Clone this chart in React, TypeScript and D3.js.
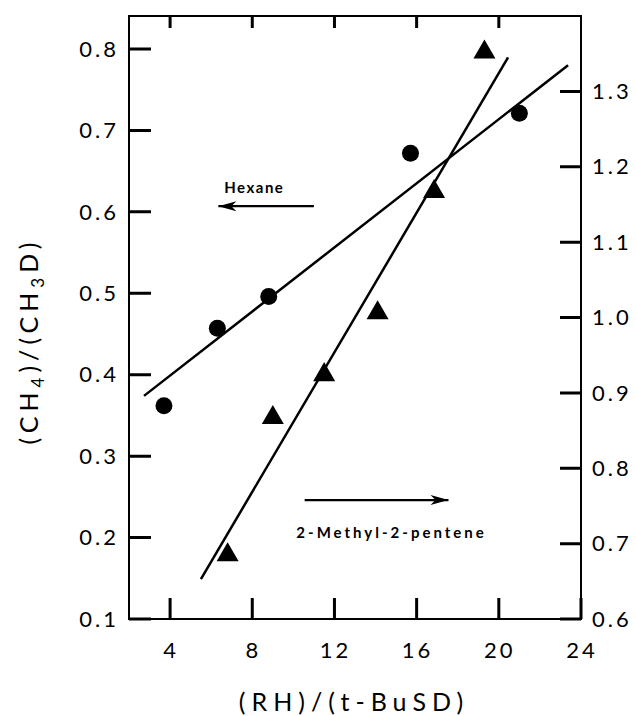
import React, { useEffect, useRef } from "react";
import * as d3 from "d3";

// hexane: (RH)/(t-BuSD) vs (CH4)/(CH3D), left axis
const hexaneX = [3.7, 6.3, 8.8, 15.7, 21.0];
const hexaneY = [0.362, 0.457, 0.496, 0.672, 0.721];
// 2-methyl-2-pentene, right axis
const pentX = [6.8, 9.0, 11.5, 14.1, 16.85, 19.3];
const pentY = [0.685, 0.867, 0.924, 1.006, 1.167, 1.352];
// fitted lines (endpoints)
const hexaneFitX = [2.73, 23.37];
const hexaneFitY = [0.374, 0.78];
const pentFitX = [5.5, 20.45];
const pentFitY = [0.653, 1.345];

const xTicks = [4, 8, 12, 16, 20, 24];
const leftTicks = [0.1, 0.2, 0.3, 0.4, 0.5, 0.6, 0.7, 0.8];
const rightTicks = [0.6, 0.7, 0.8, 0.9, 1.0, 1.1, 1.2, 1.3];

const FONT = "Lato, 'DejaVu Sans', sans-serif";

const App = () => {
  const ref = useRef<SVGSVGElement>(null);
  useEffect(() => {
    const WIDTH = 636;
    const HEIGHT = 716;
    const M = { top: 16, right: 55, bottom: 97, left: 129 };
    const x = d3.scaleLinear().domain([2, 24]).range([M.left, WIDTH - M.right]);
    const yL = d3.scaleLinear().domain([0.1, 0.8405]).range([HEIGHT - M.bottom, M.top]);
    const yR = d3.scaleLinear().domain([0.6, 1.4]).range([HEIGHT - M.bottom, M.top]);
    const xl = M.left;
    const xr = WIDTH - M.right;
    const yb = HEIGHT - M.bottom;
    const yt0 = M.top;

    const svg = d3.select(ref.current);
    svg.selectAll("*").remove();
    const ink = "#000";

    // frame
    svg
      .append("rect")
      .attr("x", xl)
      .attr("y", yt0)
      .attr("width", xr - xl)
      .attr("height", yb - yt0)
      .attr("fill", "none")
      .attr("stroke", ink)
      .attr("stroke-width", 2);

    const labelStyle = (sel: any) =>
      sel
        .attr("fill", ink)
        .style("font-family", FONT)
        .style("font-size", "22px")
        .style("letter-spacing", "3px");

    svg
      .append("g")
      .selectAll("text")
      .data(xTicks)
      .join("text")
      .attr("x", (d) => x(d) + 1)
      .attr("y", yb + 39)
      .attr("text-anchor", "middle")
      .text((d) => d)
      .call(labelStyle);

    svg
      .append("g")
      .selectAll("text")
      .data(leftTicks)
      .join("text")
      .attr("x", xl - 10)
      .attr("y", (d) => yL(d))
      .attr("dy", "0.35em")
      .attr("text-anchor", "end")
      .text((d) => d3.format(".1f")(d))
      .call(labelStyle);

    svg
      .append("g")
      .selectAll("text")
      .data(rightTicks)
      .join("text")
      .attr("x", xr + 11)
      .attr("y", (d) => yR(d))
      .attr("dy", "0.35em")
      .attr("text-anchor", "start")
      .text((d) => d3.format(".1f")(d))
      .call(labelStyle);

    // fit lines
    const line = d3.line<[number, number]>();
    svg
      .append("path")
      .attr("d", line(hexaneFitX.map((v, i) => [x(v), yL(hexaneFitY[i])])))
      .attr("stroke", ink)
      .attr("stroke-width", 2.5)
      .attr("fill", "none");
    svg
      .append("path")
      .attr("d", line(pentFitX.map((v, i) => [x(v), yR(pentFitY[i])])))
      .attr("stroke", ink)
      .attr("stroke-width", 2.5)
      .attr("fill", "none");

    // points
    svg
      .append("g")
      .selectAll("circle")
      .data(hexaneX)
      .join("circle")
      .attr("cx", (d) => x(d))
      .attr("cy", (d, i) => yL(hexaneY[i]))
      .attr("r", 8.5)
      .attr("fill", ink);

    const tri = d3.symbol(d3.symbolTriangle, 210);
    svg
      .append("g")
      .selectAll("path")
      .data(pentX)
      .join("path")
      .attr("d", tri)
      .attr("transform", (d, i) => "translate(" + x(d) + "," + yR(pentY[i]) + ")")
      .attr("fill", ink);

    // annotations
    const arrow = (xa: number, xb: number, y: number) => {
      svg
        .append("path")
        .attr("d", `M${xa},${y}H${xb}`)
        .attr("stroke", ink)
        .attr("stroke-width", 2.2);
      const dir = Math.sign(xb - xa);
      svg
        .append("path")
        .attr("d", `M${xb},${y} L${xb - dir * 18},${y - 5} L${xb - dir * 13},${y} L${xb - dir * 18},${y + 5} Z`)
        .attr("fill", ink);
    };
    arrow(x(11.0), x(6.35), yL(0.607));
    svg
      .append("text")
      .attr("x", x(8.1))
      .attr("y", yL(0.623))
      .attr("text-anchor", "middle")
      .attr("fill", ink)
      .style("font-family", FONT)
      .style("font-size", "15px")
      .style("font-weight", "bold")
      .style("letter-spacing", "1.5px")
      .text("Hexane");

    arrow(x(10.55), x(17.55), yL(0.246));
    svg
      .append("text")
      .attr("x", x(14.78))
      .attr("y", yL(0.199))
      .attr("text-anchor", "middle")
      .attr("fill", ink)
      .style("font-family", FONT)
      .style("font-size", "15px")
      .style("font-weight", "bold")
      .style("letter-spacing", "3px")
      .text("2-Methyl-2-pentene");

    // axis titles
    svg
      .append("text")
      .attr("x", 354)
      .attr("y", 711)
      .attr("text-anchor", "middle")
      .attr("fill", ink)
      .style("font-family", FONT)
      .style("font-size", "25px")
      .style("letter-spacing", "6px")
      .text("(RH)/(t-BuSD)");

    const ytitle = svg
      .append("text")
      .attr("transform", "translate(38,341) rotate(-90)")
      .attr("text-anchor", "middle")
      .attr("fill", ink)
      .style("font-family", FONT)
      .style("font-size", "25px")
      .style("letter-spacing", "5px");
    ytitle.append("tspan").text("(CH");
    ytitle.append("tspan").attr("dy", 6).style("font-size", "17px").text("4");
    ytitle.append("tspan").attr("dy", -6).text(")/(CH");
    ytitle.append("tspan").attr("dy", 6).style("font-size", "17px").text("3");
    ytitle.append("tspan").attr("dy", -6).text("D)");

    // inward ticks, one path, drawn on top
    let p = "";
    xTicks.forEach((d) => {
      p += `M${x(d)},${yb}V${yb - 21}`;
    });
    xTicks.filter((d) => d < 24).forEach((d) => {
      p += `M${x(d)},${yt0}V${yt0 + 12}`;
    });
    leftTicks.forEach((d) => {
      p += `M${xl},${yL(d)}H${xl + 22}`;
    });
    rightTicks.forEach((d) => {
      p += `M${xr},${yR(d)}H${xr - 21}`;
    });
    svg
      .append("path")
      .attr("d", p)
      .attr("stroke", ink)
      .attr("stroke-width", 3)
      .attr("fill", "none");
  }, []);

  return (
    <svg
      ref={ref}
      width={636}
      height={716}
      style={{ position: "absolute", left: 0, top: 0, background: "#fff" }}
    />
  );
};

export default App;
